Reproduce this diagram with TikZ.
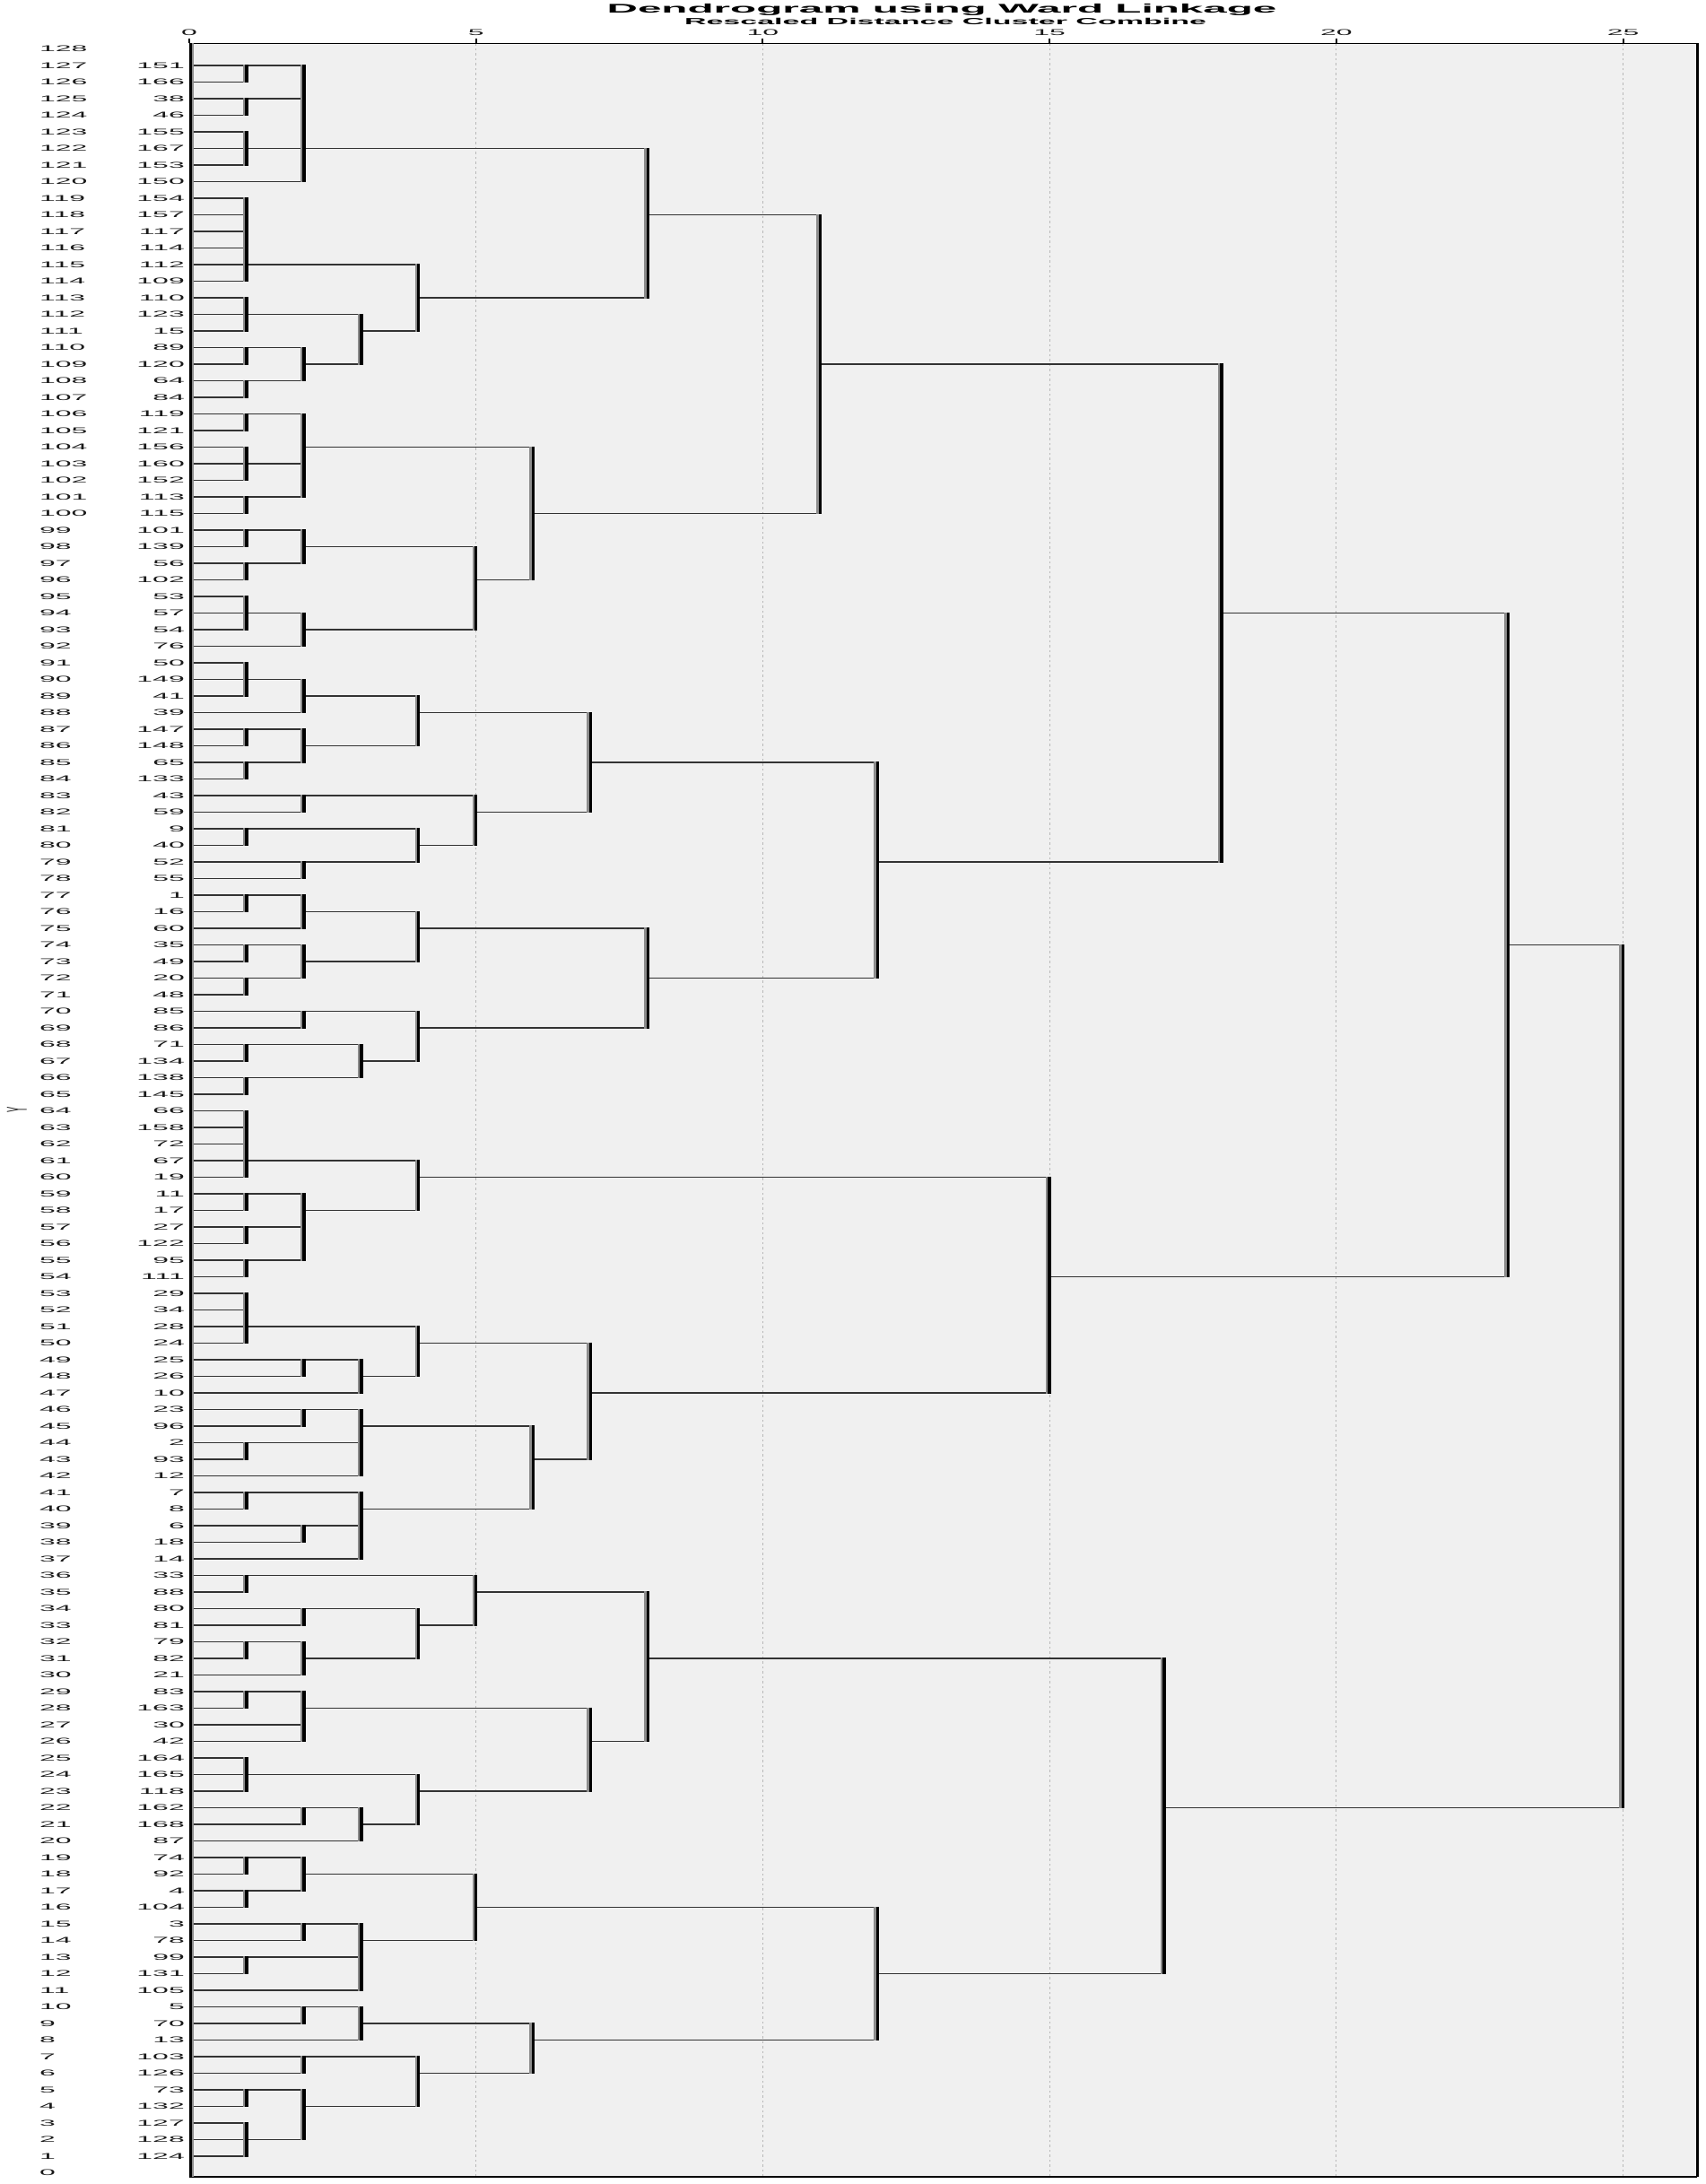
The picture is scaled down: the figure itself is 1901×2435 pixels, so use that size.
\documentclass[tikz,border=0pt]{standalone}
\usepackage{fontspec}
\setmainfont{Liberation Sans}
\usepackage{graphicx}
\newcommand{\sx}[1]{\scalebox{3.4}[1]{#1}}
\definecolor{plotbg}{HTML}{F0F0F0}
\tikzset{
  hline/.style={draw=black!80, line width=1.4pt},
  vcore/.style={draw=black, line width=3.4pt, shorten <=-0.7pt, shorten >=-0.7pt},
  vshadow/.style={draw=black!45, line width=2.6pt, shorten <=-0.7pt, shorten >=-0.7pt},
  gridl/.style={draw=black!28, line width=1.2pt, dash pattern=on 2.5pt off 3pt},
  labfont/.style={inner sep=0pt, font=\fontsize{9.4}{11}\selectfont, text=black!90},
  rowlab/.style={labfont, anchor=west},
  leaflab/.style={labfont, anchor=east},
  ticklab/.style={labfont, anchor=base},
}
\begin{document}
\begin{tikzpicture}[x=1pt,y=1pt]
\useasboundingbox (0,0) rectangle (1901,2435);
\fill[white] (0,0) rectangle (1901,2435);
% plot area
\fill[plotbg] (211,8) rectangle (1892,2386.7);
% grid lines
\foreach \g in {5,10,15,20,25}
  \draw[gridl] ({211+63.94*\g},8) -- ({211+63.94*\g},2386.7);
% tree
\begin{scope}[shift={(211pt,12.5pt)}, x=63.94pt, y=18.5pt]
\foreach \rowv/\tol in {127/1,126/1,125/1,124/1,123/1,122/1,121/1,120/2,119/1,118/1,117/1,116/1,115/1,114/1,113/1,112/1,111/1,110/1,109/1,108/1,107/1,106/1,105/1,104/1,103/1,102/1,101/1,100/1,99/1,98/1,97/1,96/1,95/1,94/1,93/1,92/2,91/1,90/1,89/1,88/2,87/1,86/1,85/1,84/1,83/2,82/2,81/1,80/1,79/2,78/2,77/1,76/1,75/2,74/1,73/1,72/1,71/1,70/2,69/2,68/1,67/1,66/1,65/1,64/1,63/1,62/1,61/1,60/1,59/1,58/1,57/1,56/1,55/1,54/1,53/1,52/1,51/1,50/1,49/2,48/2,47/3,46/2,45/2,44/1,43/1,42/3,41/1,40/1,39/2,38/2,37/3,36/1,35/1,34/2,33/2,32/1,31/1,30/2,29/1,28/1,27/2,26/2,25/1,24/1,23/1,22/2,21/2,20/3,19/1,18/1,17/1,16/1,15/2,14/2,13/1,12/1,11/3,10/2,9/2,8/3,7/2,6/2,5/1,4/1,3/1,2/1,1/1}
  \draw[hline] (0,\rowv) -- (\tol,\rowv);
\foreach \rowv/\froml/\tol in {127/1/2,125/1/2,122/1/2,122/2/8,115/1/4,112/1/3,110/1/2,108/1/2,109/2/3,111/3/4,113/4/8,118/8/11,106/1/2,103/1/2,101/1/2,104/2/6,99/1/2,97/1/2,98/2/5,94/1/2,93/2/5,96/5/6,100/6/11,109/11/18,90/1/2,89/2/4,87/1/2,85/1/2,86/2/4,88/4/7,83/2/5,81/1/4,79/2/4,80/4/5,82/5/7,85/7/12,77/1/2,76/2/4,74/1/2,72/1/2,73/2/4,75/4/8,70/2/4,68/1/3,66/1/3,67/3/4,69/4/8,72/8/12,79/12/18,94/18/23,61/1/4,59/1/2,57/1/2,55/1/2,58/2/4,60/4/15,51/1/4,49/2/3,48/3/4,50/4/7,46/2/3,44/1/3,45/3/6,41/1/3,39/2/3,40/3/6,43/6/7,47/7/15,54/15/23,74/23/25,36/1/5,34/2/4,32/1/2,31/2/4,33/4/5,35/5/8,29/1/2,28/2/7,24/1/4,22/2/3,21/3/4,23/4/7,26/7/8,31/8/17,19/1/2,17/1/2,18/2/5,15/2/3,13/1/3,14/3/5,16/5/12,10/2/3,9/3/6,7/2/4,5/1/2,2/1/2,4/2/4,6/4/6,8/6/12,12/12/17,22/17/25}
  \draw[hline] (\froml,\rowv) -- (\tol,\rowv);
\foreach \lv/\ta/\tb in {1/127/126,1/125/124,1/123/121,2/127/120,1/119/114,1/113/111,1/110/109,1/108/107,2/110/108,3/112/109,4/115/111,8/122/113,1/106/105,1/104/102,1/101/100,2/106/101,1/99/98,1/97/96,2/99/97,1/95/93,2/94/92,5/98/93,6/104/96,11/118/100,1/91/89,2/90/88,1/87/86,1/85/84,2/87/85,4/89/86,2/83/82,1/81/80,2/79/78,4/81/79,5/83/80,7/88/82,1/77/76,2/77/75,1/74/73,1/72/71,2/74/72,4/76/73,2/70/69,1/68/67,1/66/65,3/68/66,4/70/67,8/75/69,12/85/72,18/109/79,1/64/60,1/59/58,1/57/56,1/55/54,2/59/55,4/61/58,1/53/50,2/49/48,3/49/47,4/51/48,2/46/45,1/44/43,3/46/42,1/41/40,2/39/38,3/41/37,6/45/40,7/50/43,15/60/47,23/94/54,1/36/35,2/34/33,1/32/31,2/32/30,4/34/31,5/36/33,1/29/28,2/29/26,1/25/23,2/22/21,3/22/20,4/24/21,7/28/23,8/35/26,1/19/18,1/17/16,2/19/17,2/15/14,1/13/12,3/15/11,5/18/14,2/10/9,3/10/8,2/7/6,1/5/4,1/3/1,2/5/2,4/7/4,6/9/6,12/16/8,17/31/12,25/74/22}
{
  \draw[vshadow] ([xshift=-2.9pt]\lv,\ta) -- ([xshift=-2.9pt]\lv,\tb);
  \draw[vcore] (\lv,\ta) -- (\lv,\tb);
}
\end{scope}
% frame
\draw[black, line width=1.4pt] (211,2386.7) -- (1892,2386.7);
\draw[black, line width=1.3pt] (211,8) -- (1892,8);
\draw[black!45, line width=5pt] (213,8) -- (213,2386.7);
\draw[black, line width=2.8pt] (212.8,8) -- (212.8,2386.7);
\draw[black, line width=3pt] (1892,8) -- (1892,2387.4);
% ticks and tick labels
\foreach \g in {0,5,10,15,20,25} {
  \draw[black, line width=2pt] ({211+63.94*\g},2386.7) -- ({211+63.94*\g},2392.3);
  \node[ticklab] (tk\g) at ({211+63.94*\g},2395.2) {\sx{\g}};
}
% row labels
\foreach \r in {0,...,128}
  \node[rowlab] (rl\r) at (44,{12.5+18.5*\r}) {\sx{\r}};
% leaf labels
\foreach \lab [count=\i] in {151,166,38,46,155,167,153,150,154,157,117,114,112,109,110,123,15,89,120,64,84,119,121,156,160,152,113,115,101,139,56,102,53,57,54,76,50,149,41,39,147,148,65,133,43,59,9,40,52,55,1,16,60,35,49,20,48,85,86,71,134,138,145,66,158,72,67,19,11,17,27,122,95,111,29,34,28,24,25,26,10,23,96,2,93,12,7,8,6,18,14,33,88,80,81,79,82,21,83,163,30,42,164,165,118,162,168,87,74,92,4,104,3,78,99,131,105,5,70,13,103,126,73,132,127,128,124}
{
  \pgfmathtruncatemacro\rw{128-\i}
  \node[leaflab] (lf\lab) at (206,{12.5+18.5*\rw}) {\sx{\lab}};
}
% axis title
\node[labfont] (ylab) at (19,1198) {\sx{\rotatebox{90}{Y}}};
% titles
\node[anchor=base, inner sep=0pt, font=\bfseries\fontsize{14}{16}\selectfont] (title) at (1050,2420) {\sx{Dendrogram using Ward Linkage}};
\node[anchor=base, inner sep=0pt, font=\bfseries\fontsize{10}{12}\selectfont] (subtitle) at (1054,2407.2) {\sx{Rescaled Distance Cluster Combine}};
\end{tikzpicture}
\end{document}
